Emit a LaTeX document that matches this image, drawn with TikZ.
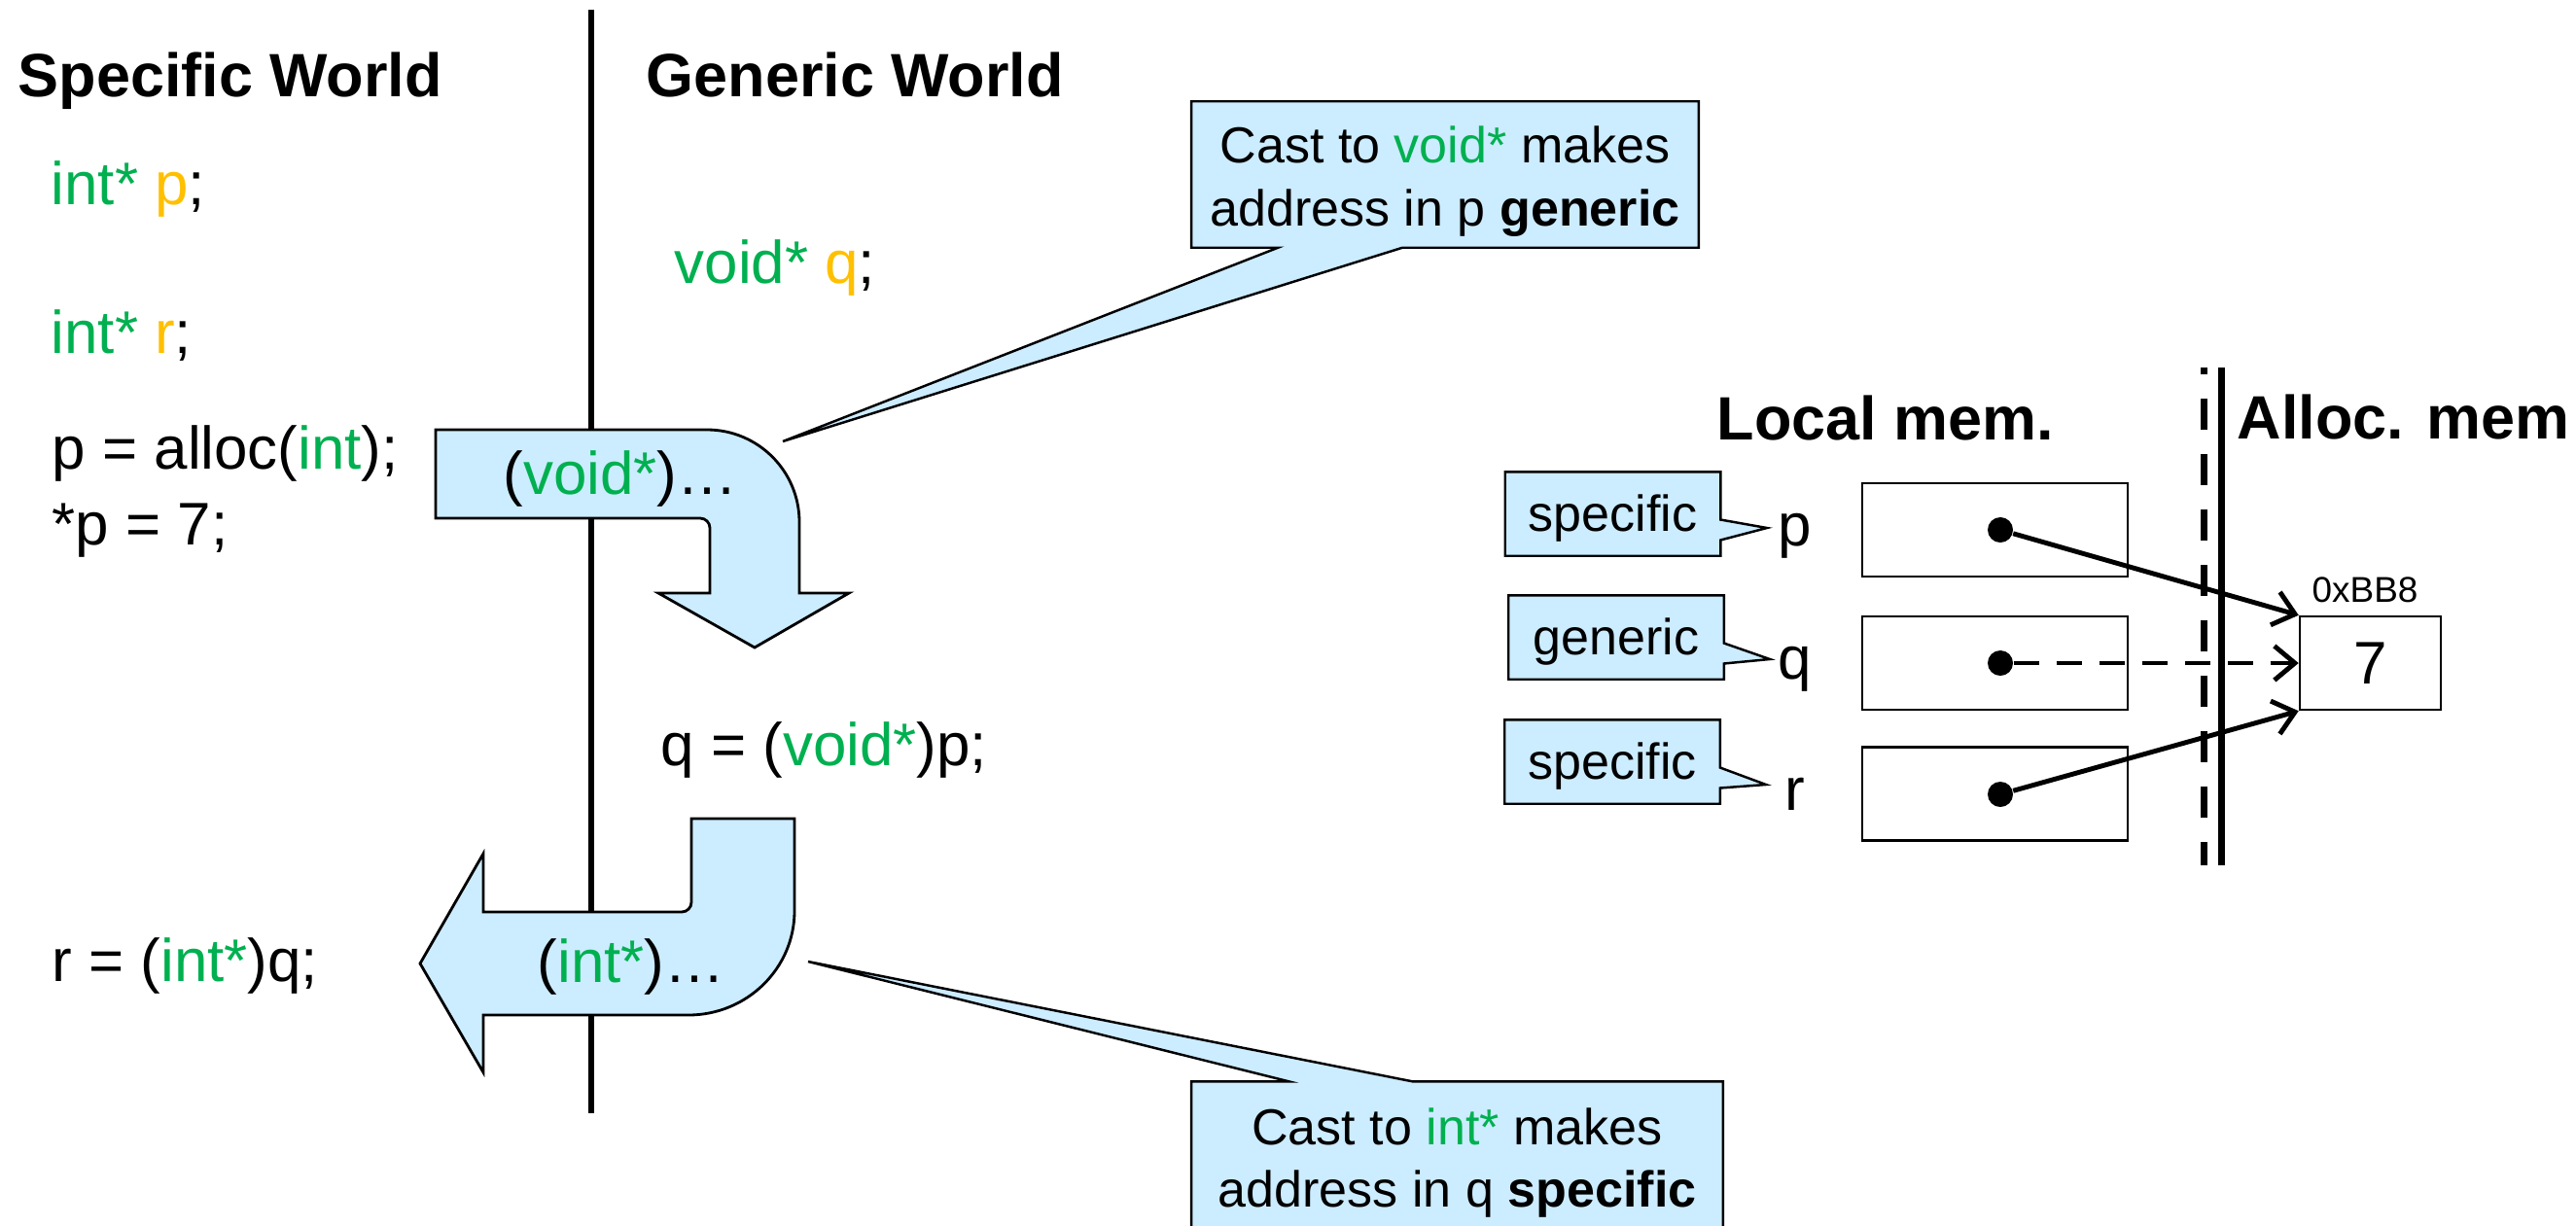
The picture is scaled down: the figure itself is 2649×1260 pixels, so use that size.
\documentclass[tikz,border=0pt]{standalone}
\usepackage{fontspec}
\setmainfont{Liberation Sans}
\usetikzlibrary{arrows.meta,calc,backgrounds}
\definecolor{typegreen}{HTML}{00B050}
\definecolor{namegold}{HTML}{FFC000}
\definecolor{callblue}{HTML}{CCECFF}
\newcommand{\ty}[1]{\textcolor{typegreen}{#1}}
\newcommand{\nm}[1]{\textcolor{namegold}{#1}}
\tikzset{
  code/.style={anchor=base west,inner sep=0pt,font=\fontsize{17.6}{21}\selectfont},
  heading/.style={anchor=base west,inner sep=0pt,font=\fontsize{17.9}{21}\selectfont\bfseries},
  note/.style={align=center,inner sep=0pt,font=\fontsize{14.8}{18.4}\selectfont},
  tag/.style={minimum width=2.2cm,minimum height=0.85cm,inner sep=0pt,text height=13.3pt,text depth=3.1pt,font=\fontsize{14.8}{18}\selectfont},
  cell/.style={draw,line width=0.7pt,minimum height=0.96cm,inner sep=0pt},
  dot/.style={circle,fill,inner sep=0pt,minimum size=7.4pt},
  balloon/.style={draw,fill=callblue,line width=0.7pt},
  cast/.style={draw,fill=callblue,line width=0.8pt},
  ptr/.style={line width=1.4pt,-{Straight Barb[length=6pt,width=10pt]}},
}
\begin{document}
\begin{tikzpicture}[x=0.01cm,y=-0.01cm]
  \clip (0,0) rectangle (2649,1260);
  \coordinate (septop) at (608,10);
  \coordinate (sepbot) at (608,1145);
  \draw[line width=1.6pt] (septop) -- (sepbot);

  \draw[cast] (448,442) -- (727,442) .. controls (779.5,442) and (822,484.5) .. (822,537)
    -- (822,610) -- (873,610) -- (776,666) -- (677,610) -- (730,610) -- (730,543)
    .. controls (730,537.5) and (725.5,533) .. (720,533) -- (448,533) -- cycle;
  \draw[cast] (711,842) -- (817,842) -- (817,937) .. controls (817,996) and (768,1044) .. (708,1044)
    -- (497,1044) -- (497,1103) -- (432,991) -- (497,878) -- (497,938) -- (701,938)
    .. controls (706.5,938) and (711,933.5) .. (711,928) -- cycle;

  \node[heading] (hspec) at (18,99) {Specific World};
  \node[heading] (hgen) at (664,99) {Generic World};
  \node[heading] (hloc) at (1765,452) {Local mem.};
  \node[heading] (halloc) at (2300,451) {Alloc. mem};

  \node[code] (declp) at (52,210) {\ty{int*} \nm{p};};
  \node[code] (declr) at (52,363) {\ty{int*} \nm{r};};
  \node[code] (alloc) at (53,482) {p = alloc(\ty{int});};
  \node[code] (deref) at (53,560) {*p = 7;};
  \node[code] (castr) at (53,1009) {r = (\ty{int*})q;};
  \node[code] (declq) at (693,291) {\ty{void*} \nm{q};};
  \node[code] (castq) at (679,787) {q = (\ty{void*})p;};
  \node[code] (lblvoid) at (517,508) {(\ty{void*})…};
  \node[code] (lblint) at (552,1010) {(\ty{int*})…};

  \node[minimum width=5.2cm,minimum height=1.49cm,inner sep=0pt] (cvoid) at (1486,179.5) {};
  \node[note] (cvoidtext) at (1486,186.5) {Cast to \ty{void*} makes\\address in p \textbf{generic}};
  \coordinate (vtip) at (805,454);
  \node[minimum width=5.45cm,minimum height=1.67cm,inner sep=0pt] (cint) at (1498.5,1196.5) {};
  \node[note] (cinttext) at (1498.5,1196) {Cast to \ty{int*} makes\\address in q \textbf{specific}};
  \coordinate (itip) at (831,989);

  \node[tag] (sp) at (1658.5,528.5) {specific};
  \node[tag] (gq) at (1662,655.5) {generic};
  \node[tag] (sr) at (1658,783.5) {specific};
  \coordinate (tp) at (1817,543);
  \coordinate (tq) at (1820,678);
  \coordinate (tr) at (1816,807);
  \node[code,anchor=base] (lp) at (1846,561) {p};
  \node[code,anchor=base] (lq) at (1846,698) {q};
  \node[code,anchor=base] (lr) at (1846,833) {r};

  \node[cell,minimum width=2.73cm] (mp) at (2051.5,545) {};
  \node[cell,minimum width=2.73cm] (mq) at (2051.5,682) {};
  \node[cell,minimum width=2.73cm] (mr) at (2051.5,816.5) {};
  \node[cell,minimum width=1.45cm,font=\fontsize{17.6}{21}\selectfont] (m7) at (2437.5,682) {7};
  \node[font=\fontsize{10.5}{12}\selectfont] (addr) at (2432,607) {0xBB8};
  \node[dot] (dp) at (2057,545) {};
  \node[dot] (dq) at (2057,682) {};
  \node[dot] (dr) at (2057,817) {};

  \coordinate (dashtop) at (2266,378);
  \coordinate (dashbot) at (2266,890);
  \coordinate (walltop) at (2284,378);
  \coordinate (wallbot) at (2284,890);
  \draw[line width=2pt,dash pattern=on 0.32cm off 0.25cm,dash phase=0.25cm] (dashtop) -- (dashbot);
  \draw[line width=2pt] (walltop) -- (wallbot);

  \draw[ptr] (dp) -- (m7.north west);
  \draw[ptr,dash pattern=on 7.4pt off 5.1pt] (dq) -- (m7.west);
  \draw[ptr] (dr) -- (m7.south west);

  \begin{scope}[on background layer]
    \draw[balloon] (cvoid.north west) -- (cvoid.north east) -- (cvoid.south east)
      -- ($(cvoid.south west)+(217,0)$) -- (vtip) -- ($(cvoid.south west)+(89,0)$)
      -- (cvoid.south west) -- cycle;
    \draw[balloon] (cint.south west) -- (cint.north west) -- ($(cint.north west)+(100,0)$)
      -- (itip) -- ($(cint.north west)+(227,0)$) -- (cint.north east)
      -- (cint.south east) -- cycle;
    \foreach \t/\tip in {sp/tp,gq/tq,sr/tr}
      \draw[balloon] (\t.north west) -- (\t.north east) -- ($(\t.east)+(0,6)$) -- (\tip)
        -- ($(\t.east)+(0,27)$) -- (\t.south east) -- (\t.south west) -- cycle;
  \end{scope}
\end{tikzpicture}
\end{document}
